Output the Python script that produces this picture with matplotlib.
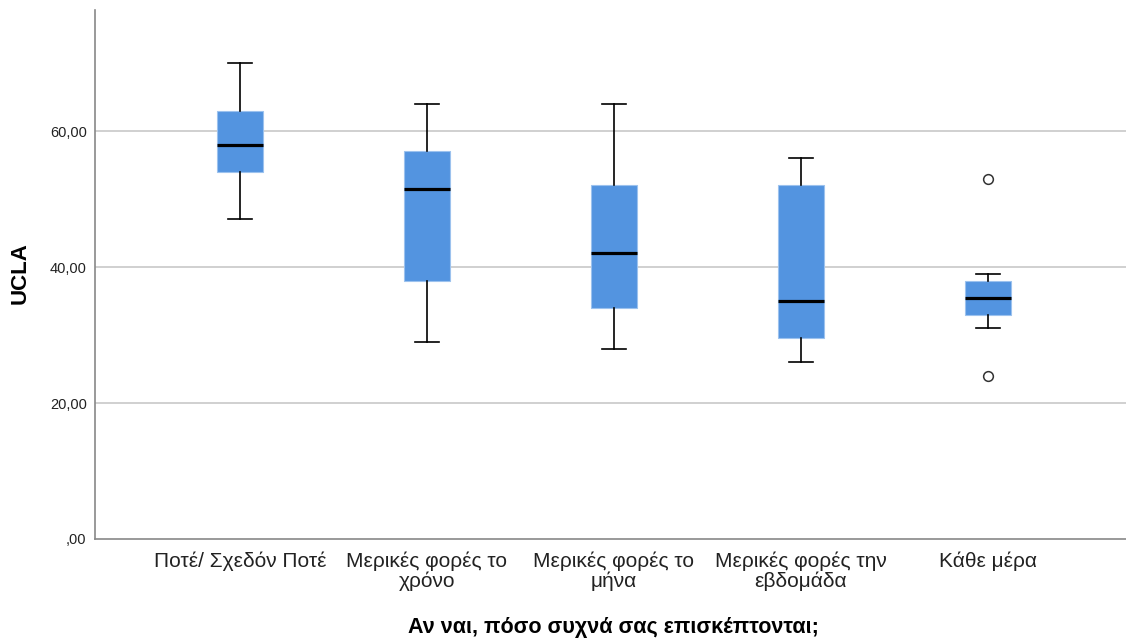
import matplotlib
matplotlib.use("Agg")
import matplotlib.pyplot as plt

plt.rcParams['font.family'] = ['Liberation Sans', 'DejaVu Sans']

categories = ["Ποτέ/ Σχεδόν Ποτέ", "Μερικές φορές το\nχρόνο", "Μερικές φορές το\nμήνα",
              "Μερικές φορές την\nεβδομάδα", "Κάθε μέρα"]
whisker_low = [47, 29, 28, 26, 31]
q1 = [54, 38, 34, 29.5, 33]
median = [58, 51.5, 42, 35, 35.5]
q3 = [63, 57, 52, 52, 38]
whisker_high = [70, 64, 64, 56, 39]
outliers = [[], [], [], [], [53, 24]]
y_ticks = [0, 20, 40, 60]
y_tick_labels = [",00", "20,00", "40,00", "60,00"]

stats = []
for i in range(len(categories)):
    stats.append(dict(whislo=whisker_low[i], q1=q1[i], med=median[i], q3=q3[i],
                      whishi=whisker_high[i], fliers=outliers[i]))

fig = plt.figure(figsize=(11.26, 6.39), dpi=100)
ax = fig.add_axes([95 / 1126, 100 / 639, 1031 / 1126, 529 / 639])

positions = list(range(1, len(categories) + 1))
ax.bxp(stats, positions=positions, widths=0.25, capwidths=0.125, patch_artist=True,
       boxprops=dict(facecolor="#5394e0", edgecolor="#9cc2ee", linewidth=0.8),
       medianprops=dict(color="black", linewidth=2.3),
       whiskerprops=dict(color="black", linewidth=1.2),
       capprops=dict(color="black", linewidth=1.2),
       flierprops=dict(marker="o", markerfacecolor="white", markeredgecolor="#333333",
                       markersize=7, markeredgewidth=1.1),
       zorder=3)

ax.set_xlim(0.2246, 5.738)
ax.set_ylim(0, 77.8)
ax.set_yticks(y_ticks)
ax.set_yticklabels(y_tick_labels, fontsize=10.5, color="#222222")
ax.set_xticks(positions)
ax.set_xticklabels(categories, fontsize=15, color="#222222", linespacing=1.05)
ax.tick_params(axis="both", length=0, pad=6)
ax.tick_params(axis="x", pad=9)

for y in y_ticks[1:]:
    ax.axhline(y, color="#c8c8c8", linewidth=1.2, zorder=1)

for side in ["top", "right"]:
    ax.spines[side].set_visible(False)
for side in ["left", "bottom"]:
    ax.spines[side].set_color("#888888")
    ax.spines[side].set_linewidth(1.2)

ax.set_ylabel("UCLA", fontsize=16, fontweight="bold", va="center")
ax.yaxis.set_label_coords(-0.0727, 0.503)
ax.set_xlabel("Αν ναι, πόσο συχνά σας επισκέπτονται;", fontsize=15.5, fontweight="bold", va="center")
ax.xaxis.set_label_coords(0.503, -0.168)

fig.savefig("out.png", dpi=100)
